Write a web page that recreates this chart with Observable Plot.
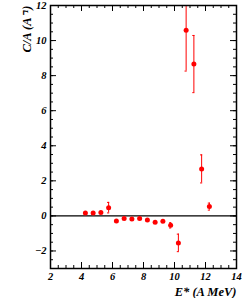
<!DOCTYPE html>
<html>
<head>
<meta charset="utf-8">
<script src="https://cdn.jsdelivr.net/npm/d3@7"></script>
<script src="https://cdn.jsdelivr.net/npm/@observablehq/plot@0.6"></script>
<style>
html,body{margin:0;padding:0;background:#fff;}
svg text{font-weight:bold;font-style:italic;}
</style>
</head>
<body>
<div id="chart"></div>
<script>
const energy = [4.25, 4.75, 5.25, 5.75, 6.25, 6.75, 7.25, 7.75, 8.25, 8.75, 9.25, 9.75, 10.25, 10.75, 11.25, 11.75, 12.25];
const ca     = [0.17, 0.17, 0.20, 0.47, -0.29, -0.15, -0.17, -0.15, -0.23, -0.36, -0.31, -0.54, -1.54, 10.59, 8.66, 2.68, 0.53];
const err    = [0.05, 0.05, 0.05, 0.30, 0.05, 0.05, 0.05, 0.05, 0.05, 0.05, 0.05, 0.15, 0.50, 2.33, 1.63, 0.80, 0.20];
const xMajor = [2, 4, 6, 8, 10, 12, 14];
const yMajor = [-2, 0, 2, 4, 6, 8, 10, 12];
const xMinor = d3.range(2, 14.01, 0.5);
const yMinor = d3.range(-3, 12.01, 0.5);
const xLabel = "E* (A MeV)";
const yLabel = "C/A (A⁻¹)";

const data = energy.map((e, i) => ({e, v: ca[i], lo: ca[i] - err[i], hi: ca[i] + err[i]}));

const W = 249, H = 298;
const mT = 5, mB = 30, mL = 50, mR = 13;
const ph = H - mT - mB, pw = W - mL - mR;
const font = "'Liberation Serif', 'Times New Roman', serif";
const red = "#ff0000";
const capW = 0.07;

const chart = Plot.plot({
  width: W, height: H,
  marginTop: mT, marginBottom: mB, marginLeft: mL, marginRight: mR,
  x: {domain: [2, 14]},
  y: {domain: [-3, 12]},
  style: {fontFamily: font, background: "#fff"},
  marks: [
    // minor ticks
    Plot.tickX(xMinor, {x: d => d, insetTop: ph - 3, stroke: "#000", strokeWidth: 1}),
    Plot.tickX(xMinor, {x: d => d, insetBottom: ph - 3, stroke: "#000", strokeWidth: 1}),
    Plot.tickY(yMinor, {y: d => d, insetRight: pw - 3, stroke: "#000", strokeWidth: 1}),
    Plot.tickY(yMinor, {y: d => d, insetLeft: pw - 3, stroke: "#000", strokeWidth: 1}),
    // major ticks
    Plot.tickX(xMajor, {x: d => d, insetTop: ph - 6, stroke: "#000", strokeWidth: 1}),
    Plot.tickX(xMajor, {x: d => d, insetBottom: ph - 6, stroke: "#000", strokeWidth: 1}),
    Plot.tickY(yMajor, {y: d => d, insetRight: pw - 6, stroke: "#000", strokeWidth: 1}),
    Plot.tickY(yMajor, {y: d => d, insetLeft: pw - 6, stroke: "#000", strokeWidth: 1}),
    Plot.axisX(xMajor, {tickSize: 0, tickPadding: 4, fontSize: 10.5, fontWeight: "bold", fontStyle: "italic", fill: "#000", label: null}),
    Plot.axisY(yMajor, {tickSize: 0, tickPadding: 4, fontSize: 10.5, fontWeight: "bold", fontStyle: "italic", fill: "#000", label: null}),
    Plot.ruleY([0], {stroke: "#000", strokeWidth: 1.2}),
    // error bars
    Plot.ruleX(data, {x: "e", y1: "lo", y2: "hi", stroke: red, strokeWidth: 1, clip: true}),
    Plot.ruleY(data.filter((d, i) => err[i] > 0.1), {y: "lo", x1: d => d.e - capW, x2: d => d.e + capW, stroke: red, strokeWidth: 1, clip: true}),
    Plot.ruleY(data.filter((d, i) => err[i] > 0.1), {y: "hi", x1: d => d.e - capW, x2: d => d.e + capW, stroke: red, strokeWidth: 1, clip: true}),
    Plot.dot(data, {x: "e", y: "v", r: 2.5, fill: red, stroke: "none"}),
    Plot.frame({stroke: "#000", strokeWidth: 1.5}),
    Plot.text([xLabel], {frameAnchor: "bottom-right", dy: 23, lineAnchor: "middle", textAnchor: "end", fontSize: 12.5, fontWeight: "bold", fontStyle: "italic", fill: "#000"}),
    Plot.text([yLabel], {frameAnchor: "top-left", dx: -20, rotate: -90, textAnchor: "end", lineAnchor: "bottom", fontSize: 12.5, fontWeight: "bold", fontStyle: "italic", fill: "#000"})
  ]
});
document.getElementById("chart").appendChild(chart);
</script>
</body>
</html>
